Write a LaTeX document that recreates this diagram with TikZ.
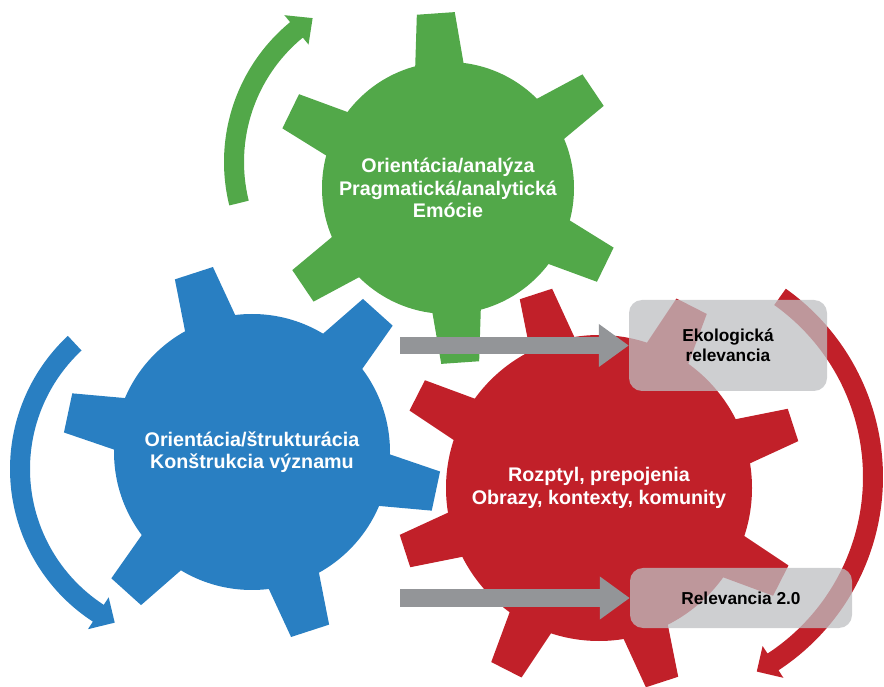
\documentclass[tikz,border=0pt]{standalone}
\usepackage{fontspec}
\setmainfont{Liberation Sans}
\usetikzlibrary{arrows.meta,calc}
\definecolor{gg}{RGB}{82,168,73}
\definecolor{bb}{RGB}{41,127,194}
\definecolor{rr}{RGB}{193,32,41}
\definecolor{arrowgray}{RGB}{147,149,152}
\definecolor{boxgray}{RGB}{190,191,194}
\pgfdeclarelayer{gearlayer}
\pgfdeclarelayer{arrowlayer}
\pgfsetlayers{gearlayer,arrowlayer,main}
\newcommand\bentarrow[6]{%
  \fill[#1] ($#2+(#4:#3+10)$) arc[start angle=#4, end angle=#5, radius=#3+10]
    -- ($#2+(#5:#3+19)$) -- ($#2+(#6:#3)$) -- ($#2+(#5:#3-19)$)
    -- ($#2+(#5:#3-10)$) arc[start angle=#5, end angle=#4, radius=#3-10] -- cycle;}
\begin{document}
\begin{tikzpicture}[x=1pt,y=1pt,
  gearlabel/.style={text=white, font=\bfseries\fontsize{19.7}{22.5}\selectfont, align=center, inner sep=0pt},
  boxnode/.style={rounded corners=13pt, fill=boxgray, fill opacity=0.75, text opacity=1,
    text=black, font=\bfseries\fontsize{17.3}{20}\selectfont, align=center, inner sep=0pt},
  grayarrow/.style={draw=arrowgray, line width=17pt, -{Triangle[width=41pt,length=30pt]}}]
\useasboundingbox (0,0) rectangle (884,686);
\begin{pgfonlayer}{gearlayer}
% green gear
\fill[gg] (448,498) circle[radius=126];
\foreach \a in {34,94,154,214,274,334}
  \fill[gg, shift={(448,498)}, rotate=\a] (110,-25.6) -- (175,-19) -- (175,19) -- (110,25.6) -- cycle;
% blue gear
\fill[bb] (252,234) circle[radius=138];
\foreach \a in {48,108,168,228,288,348}
  \fill[bb, shift={(252,234)}, rotate=\a] (120,-28.2) -- (188,-20) -- (188,20) -- (120,28.2) -- cycle;
% red gear
\fill[rr] (599,198) circle[radius=153];
\foreach \a in {18,63,108,153,198,243,288,333}
  \fill[rr, shift={(599,198)}, rotate=\a] (135,-25.1) -- (204,-17) -- (204,17) -- (135,25.1) -- cycle;
% curved arrows
\bentarrow{gg}{(405,524)}{171}{193.9}{129.4}{122.7}
\bentarrow{bb}{(192,217)}{172}{133}{237}{243.3}
\bentarrow{rr}{(652,209)}{221}{54.6}{-56.8}{-61.7}
% gear labels
\node[gearlabel] (gtext) at (448,498) {Orientácia/analýza\\Pragmatická/analytická\\Emócie};
\node[gearlabel] (btext) at (252,234) {Orientácia/štrukturácia\\Konštrukcia významu};
\node[gearlabel] (rtext) at (599,198) {Rozptyl, prepojenia\\Obrazy, kontexty, komunity};
\end{pgfonlayer}
% boxes
\node[boxnode, minimum width=198pt, minimum height=91pt] (box1) at (728,340.5) {Ekologická\\relevancia};
\node[boxnode, minimum width=222pt, minimum height=60pt] (box2) at (741,88) {Relevancia 2.0};
% gray arrows (below the boxes)
\begin{pgfonlayer}{arrowlayer}
\coordinate (s1) at (400,340.5);
\coordinate (s2) at (400,88);
\draw[grayarrow] (s1) -- (box1.west);
\draw[grayarrow] (s2) -- (box2.west);
\end{pgfonlayer}
\end{tikzpicture}
\end{document}
